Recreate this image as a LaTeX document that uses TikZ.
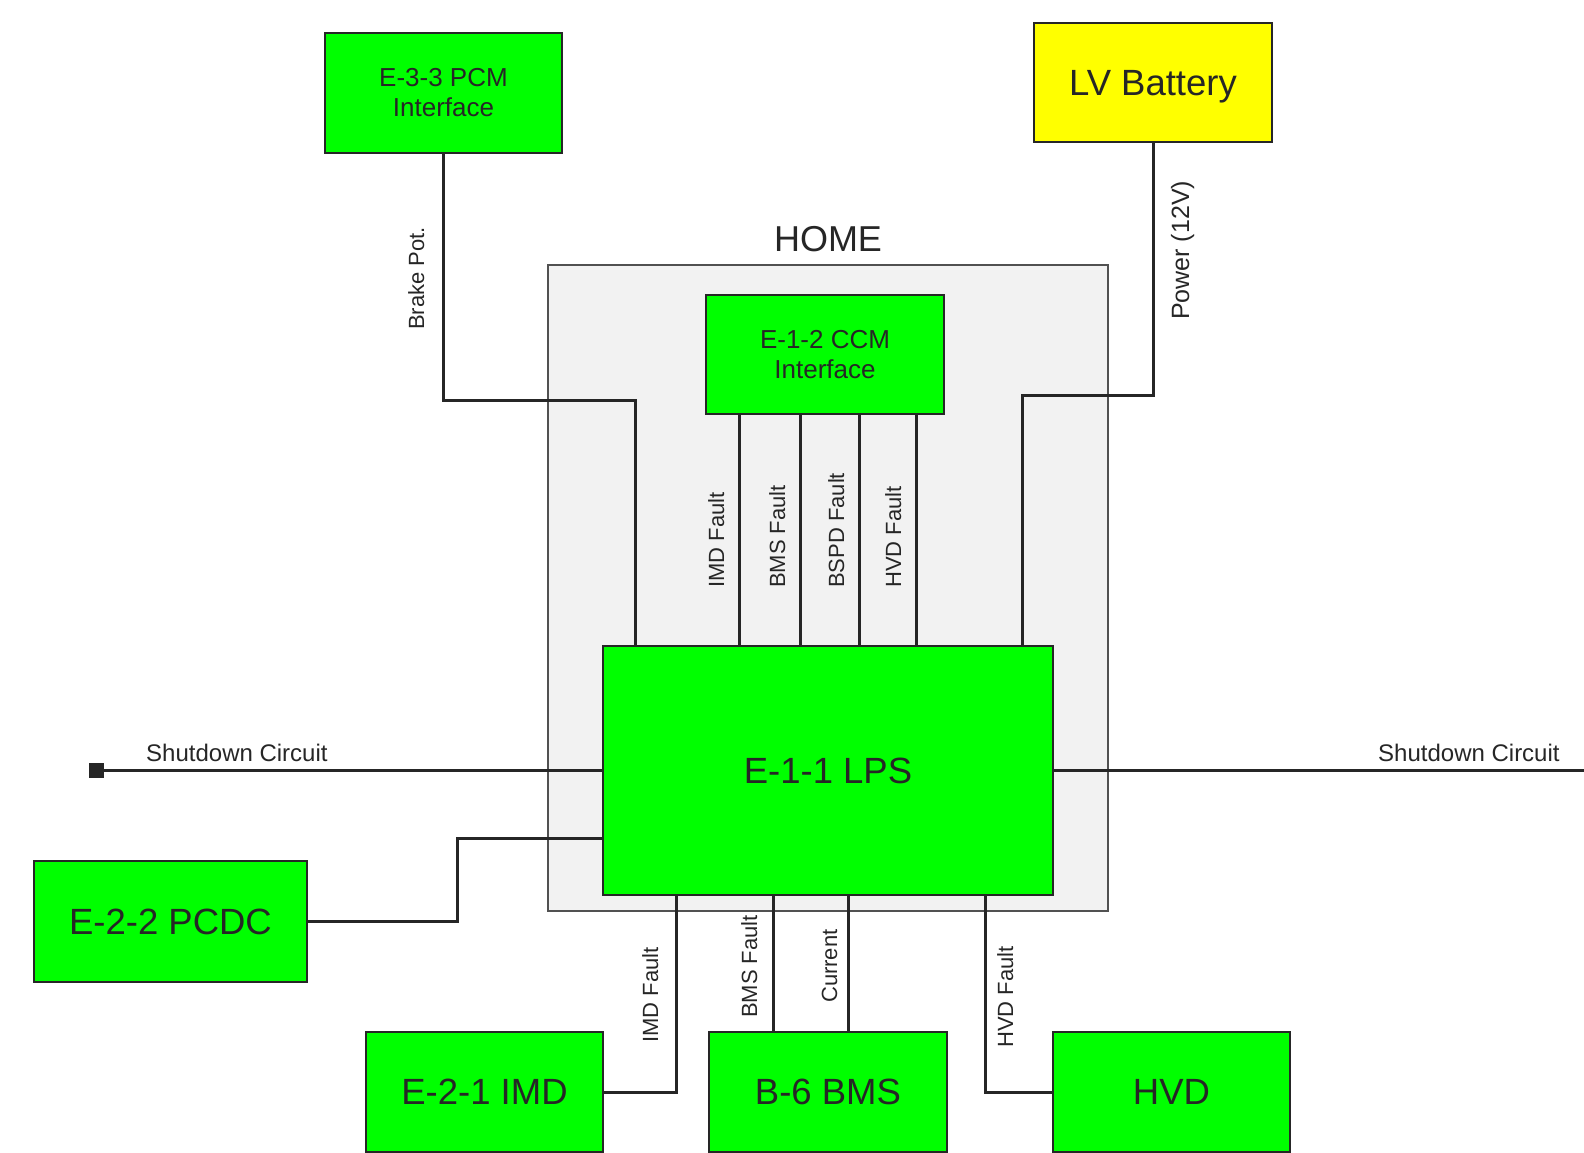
\documentclass[tikz,border=0pt]{standalone}
\usepackage{fontspec}
\setmainfont{Liberation Sans}
\usetikzlibrary{positioning}
\definecolor{boxgreen}{HTML}{00FF00}
\definecolor{battyellow}{HTML}{FFFF00}
\definecolor{homegray}{HTML}{F2F2F2}
\definecolor{ink}{HTML}{262626}

\begin{document}
\begin{tikzpicture}[x=1pt,y=-1pt,
  box/.style={draw=ink,line width=2pt,fill=boxgreen,text=ink,minimum width=237pt,minimum height=120pt,align=center,inner sep=0pt},
  big/.style={font=\fontsize{36.5}{43}\selectfont,text depth=0pt},
  small/.style={font=\fontsize{26}{30}\selectfont},
  wire/.style={line width=3pt,draw=ink},
  lbl/.style={rotate=90,anchor=base west,inner sep=0pt,text=ink,font=\fontsize{22}{26}\selectfont},
  sdlbl/.style={anchor=base west,inner sep=0pt,text=ink,font=\fontsize{24}{28}\selectfont}]
\useasboundingbox (0,0) rectangle (1584,1153);
\node[draw=ink!80,line width=1.2pt,fill=homegray,minimum width=560pt,minimum height=646pt,
  label={[font=\fontsize{36}{43}\selectfont,text=ink,label distance=9pt]above:HOME}] (home) at (828,588) {};
\node[box,big,minimum width=450pt,minimum height=249pt] (lps) at (828,770.5) {E-1-1 LPS};
\node[box,small,minimum width=238pt,minimum height=119pt] (ccm) at (825,354.5) {E-1-2 CCM\\Interface};
\node[box,small] (pcm) at (443.5,93) {E-3-3 PCM\\Interface};
\node[box,big,fill=battyellow,minimum width=238pt,minimum height=119pt] (lvb) at (1153,82.5) {LV Battery};
\node[box,big,minimum width=273pt,minimum height=121pt] (pcdc) at (170.5,921.5) {E-2-2 PCDC};
\node[box,big,minimum width=238pt] (bms) at (828,1092) {B-6 BMS};
\node[box,big,left=104pt of bms] (imd) {E-2-1 IMD};
\node[box,big,right=104pt of bms] (hvd) {HVD};

\draw[wire] (pcm.south) |- (635,400) -- (lps.north -| 635,0);
\draw[wire] (lvb.south) |- (1022,395) -- (lps.north -| 1022,0);
\foreach \x/\t [count=\i] in {739/IMD Fault,800/BMS Fault,859/BSPD Fault,916/HVD Fault}{
  \draw[wire] (ccm.south -| \x,0) -- (lps.north -| \x,0);
  \node[lbl] (flt\i) at (\x-15,588) {\t};
}
\draw[wire] (pcdc.east) -| (457,838) -- (lps.west |- 0,838);
\node[fill=ink,minimum size=15pt,inner sep=0pt] (sdl) at (96,770) {};
\coordinate (sdr) at (1584,770);
\draw[wire] (sdl) -- (lps.west |- sdl);
\draw[wire] (lps.east |- sdr) -- (sdr);
\draw[wire] (lps.south -| 676,0) |- (imd.east);
\draw[wire] (lps.south -| 773,0) -- (bms.north -| 773,0);
\draw[wire] (lps.south -| 848,0) -- (bms.north -| 848,0);
\draw[wire] (lps.south -| 985,0) |- (hvd.west);

\node[lbl] (brklbl) at (424,330) {Brake Pot.};
\node[lbl,font=\fontsize{25}{29}\selectfont] (pwrlbl) at (1189,320) {Power (12V)};
\node[lbl] (imdlbl) at (658,1043) {IMD Fault};
\node[lbl] (bmslbl) at (757,1018) {BMS Fault};
\node[lbl] (curlbl) at (837,1003) {Current};
\node[lbl] (hvdlbl) at (1013,1048) {HVD Fault};
\node[sdlbl] (sdltxt) at (146,761) {Shutdown Circuit};
\node[sdlbl] (sdrtxt) at (1378,761) {Shutdown Circuit};
\end{tikzpicture}
\end{document}
